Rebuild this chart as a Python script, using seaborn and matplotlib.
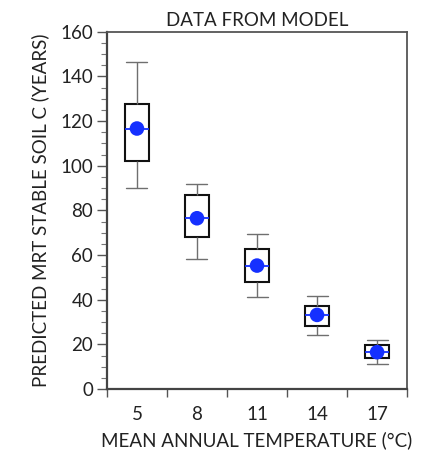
import numpy as np
import pandas as pd
import seaborn as sns
import matplotlib
matplotlib.use("Agg")
import matplotlib.pyplot as plt
from matplotlib.ticker import MultipleLocator, FixedLocator

# Model-predicted mean residence time (MRT) of stable soil C by temperature
temps = ["5", "8", "11", "14", "17"]
whisker_low = [90.0, 58.1, 41.4, 24.2, 11.4]
q1 = [102.3, 68.0, 47.8, 28.2, 13.8]
median = [116.7, 76.5, 55.3, 33.2, 16.5]
q3 = [127.6, 87.0, 62.6, 37.2, 19.6]
whisker_high = [146.3, 92.0, 69.3, 41.5, 21.8]

# five summary values per temperature; with whis=(0, 100) the quartiles and
# whisker ends of each box come out exactly as these values
rows = []
for t, lo, a, m, b, hi in zip(temps, whisker_low, q1, median, q3, whisker_high):
    for v in (lo, a, m, b, hi):
        rows.append({"temp": t, "mrt": v})
df = pd.DataFrame(rows)
centers = pd.DataFrame({"temp": temps, "mrt": median})

sns.set_theme(style="white")
plt.rcParams["font.family"] = ["Lato", "DejaVu Sans"]

fig = plt.figure(figsize=(4.21, 4.55), dpi=100)
ax = fig.add_axes([0.254, 0.145, 0.713, 0.785])

blue = "#1530ff"
fs = 13.5
sns.boxplot(
    data=df, x="temp", y="mrt", order=temps, whis=(0, 100), width=0.41,
    color="white", linecolor="black", linewidth=1.5, fliersize=0, ax=ax,
    boxprops=dict(facecolor="white", edgecolor="#111111", linewidth=1.5),
    whiskerprops=dict(color="#6f6f6f", linewidth=1.0),
    capprops=dict(color="#6f6f6f", linewidth=1.0),
    medianprops=dict(color=blue, linewidth=1.3),
    capwidths=0.35,
)
sns.scatterplot(data=centers, x="temp", y="mrt", s=110, color=blue,
                edgecolor="none", zorder=5, ax=ax)

ax.set_xlim(-0.5, 4.5)
ax.set_ylim(0, 160)
ax.yaxis.set_major_locator(MultipleLocator(20))
ax.yaxis.set_minor_locator(MultipleLocator(5))

# category labels centred under each box, tick marks on the boundaries
ax.set_xticks(range(len(temps)))
ax.set_xticklabels(temps)
ax.xaxis.set_minor_locator(FixedLocator(np.arange(-0.5, 4.6, 1.0)))
ax.tick_params(axis="x", which="major", length=0, pad=12)
ax.tick_params(axis="x", which="minor", length=6, width=1.0, color="#555555",
               direction="out", bottom=True)
ax.tick_params(axis="y", which="major", length=7, width=1.0, color="#555555",
               direction="out", left=True, pad=3)
ax.tick_params(axis="y", which="minor", length=4, width=0.8, color="#777777",
               direction="out", left=True)
ax.tick_params(labelsize=fs, labelcolor="#222222")

for side in ["left", "bottom"]:
    ax.spines[side].set_color("#444444")
    ax.spines[side].set_linewidth(1.6)
for side in ["top", "right"]:
    ax.spines[side].set_color("#555555")
    ax.spines[side].set_linewidth(1.3)
    ax.spines[side].set_visible(True)

ax.set_title("DATA FROM MODEL", fontsize=fs, color="#222222", pad=4)
ax.set_xlabel("MEAN ANNUAL TEMPERATURE (°C)", fontsize=fs, color="#222222",
              labelpad=6)
ax.set_ylabel("PREDICTED MRT STABLE SOIL C (YEARS)", fontsize=fs,
              color="#222222", labelpad=8)
ax.grid(False)

fig.savefig("out.png", dpi=100)
